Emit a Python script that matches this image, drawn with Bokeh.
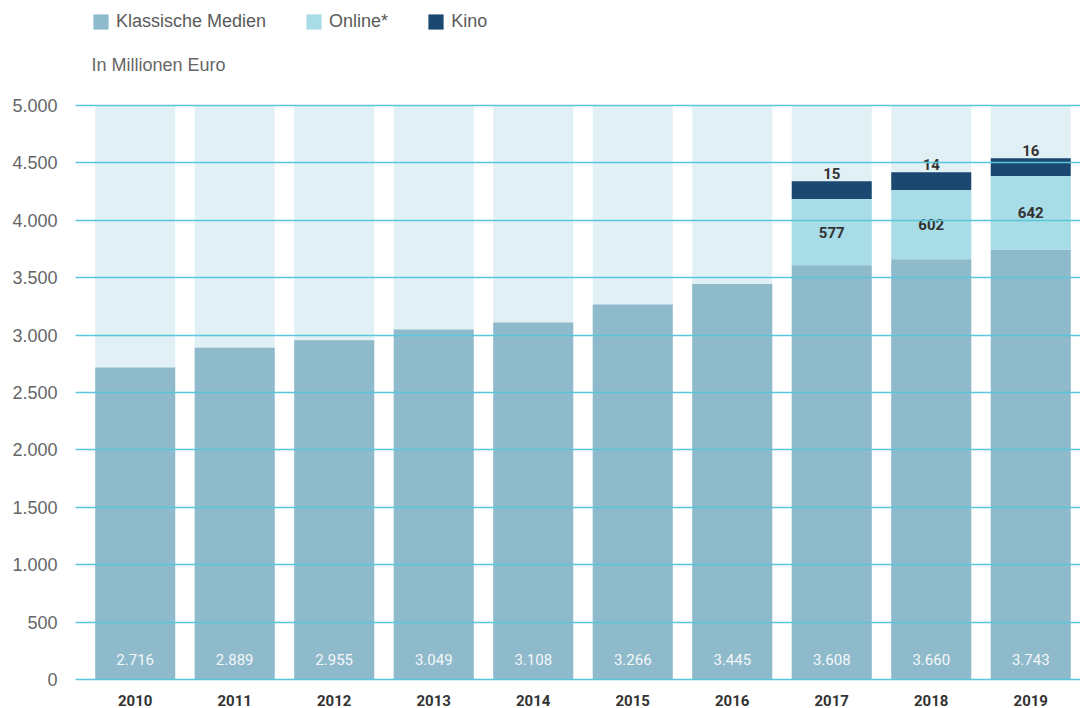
import numpy as np
from bokeh.plotting import figure
from bokeh.models import (ColumnDataSource, FixedTicker, Legend, LegendItem,
                          Label, Range1d)
from bokeh.core.properties import value
from bokeh.embed import file_html
from bokeh.resources import INLINE

# ---------------- data ----------------
years = ["2010", "2011", "2012", "2013", "2014", "2015", "2016", "2017", "2018", "2019"]
klassisch = [2716, 2889, 2955, 3049, 3108, 3266, 3445, 3608, 3660, 3743]
online = [None, None, None, None, None, None, None, 577, 602, 642]
kino = [None, None, None, None, None, None, None, 15, 14, 16]
y_ticks = [0, 500, 1000, 1500, 2000, 2500, 3000, 3500, 4000, 4500, 5000]
y_tick_labels = ["0", "500", "1.000", "1.500", "2.000", "2.500", "3.000",
                 "3.500", "4.000", "4.500", "5.000"]

# ---------------- style ----------------
C_BG = "#e1f0f4"
C_KLASS = "#8fbacb"
C_ONLINE = "#a8dce6"
C_KINO = "#1b4870"
C_GRID = "#58c7dc"
BAR_W = 0.804
KINO_MIN_DRAW = 155   # kino segment is drawn with a minimum visible height in the source
COND = value("Roboto")


def de(v):
    return f"{int(v):,}".replace(",", ".")


x = np.arange(len(years), dtype=float)
k = np.array(klassisch, dtype=float)
o = np.array([np.nan if v is None else v for v in online], dtype=float)
kn = np.array([np.nan if v is None else v for v in kino], dtype=float)
has = ~np.isnan(o)

o_bottom = k
o_top = k + o
kn_bottom = o_top
kn_top = kn_bottom + np.maximum(kn, KINO_MIN_DRAW)

src_all = ColumnDataSource(dict(x=x, k=k, top_bg=np.full(len(x), y_ticks[-1]),
                                klabel=[de(v) for v in k]))
src_new = ColumnDataSource(dict(
    x=x[has], ob=o_bottom[has], ot=o_top[has], omid=(o_bottom[has] + o_top[has]) / 2,
    kb=kn_bottom[has], kt=kn_top[has],
    olabel=[de(v) for v in o[has]], klabel=[de(v) for v in kn[has]]))

p = figure(width=1080, height=708,
           x_range=Range1d(-0.6, len(years) - 0.5),
           y_range=Range1d(-17.4, 5913),
           output_backend="svg", toolbar_location=None,
           min_border_left=75, min_border_right=0, min_border_top=0,
           min_border_bottom=26)
p.outline_line_color = None
p.background_fill_color = "white"

# background bars (scale maximum)
p.vbar(x="x", top="top_bg", bottom=0, width=BAR_W, source=src_all,
       fill_color=C_BG, line_color=None)
r_k = p.vbar(x="x", top="k", bottom=0, width=BAR_W, source=src_all,
             fill_color=C_KLASS, line_color=None)
r_o = p.vbar(x="x", top="ot", bottom="ob", width=BAR_W, source=src_new,
             fill_color=C_ONLINE, line_color=None)
r_kn = p.vbar(x="x", top="kt", bottom="kb", width=BAR_W, source=src_new,
              fill_color=C_KINO, line_color=None)

# value labels
p.text(x="x", y=0, text="klabel", source=src_all, y_offset=-20,
       text_align="center", text_baseline="middle", text_font=COND,
       text_font_size="15px", text_color="#f4f8fa")
p.text(x="x", y="omid", text="olabel", source=src_new,
       text_align="center", text_baseline="middle", text_font=COND,
       text_font_size="15px", text_color="#333333", text_font_style="bold")
p.text(x="x", y="kt", text="klabel", source=src_new, y_offset=-2,
       text_align="center", text_baseline="bottom", text_font=COND,
       text_font_size="15px", text_color="#333333", text_font_style="bold")

# grid on top of bars
p.xgrid.visible = False
p.ygrid.ticker = FixedTicker(ticks=y_ticks)
p.ygrid.grid_line_color = C_GRID
p.ygrid.grid_line_width = 1.5
p.ygrid.level = "overlay"

# axes
p.yaxis.ticker = FixedTicker(ticks=y_ticks)
p.yaxis.major_label_overrides = {t: l for t, l in zip(y_ticks, y_tick_labels)}
p.yaxis.axis_line_color = None
p.yaxis.major_tick_line_color = None
p.yaxis.minor_tick_line_color = None
p.yaxis.major_label_standoff = 12
p.yaxis.major_label_text_font = "Liberation Sans"
p.yaxis.major_label_text_font_size = "18px"
p.yaxis.major_label_text_color = "#666666"

p.xaxis.ticker = FixedTicker(ticks=list(x))
p.xaxis.major_label_overrides = {int(i): y for i, y in zip(x, years)}
p.xaxis.axis_line_color = None
p.xaxis.major_tick_line_color = None
p.xaxis.minor_tick_line_color = None
p.xaxis.major_label_standoff = 7
p.xaxis.major_label_text_font = "Roboto"
p.xaxis.major_label_text_font_size = "15px"
p.xaxis.major_label_text_font_style = "bold"
p.xaxis.major_label_text_color = "#333333"

# legend
legend = Legend(items=[LegendItem(label="Klassische Medien", renderers=[r_k]),
                       LegendItem(label="Online*", renderers=[r_o]),
                       LegendItem(label="Kino", renderers=[r_kn])],
                location=(16, 649), orientation="horizontal",
                glyph_width=19, glyph_height=19, label_height=19,
                label_standoff=6, spacing=38, padding=0, margin=0,
                border_line_color=None, background_fill_alpha=0,
                label_text_font="Liberation Sans", label_text_font_size="18px",
                label_text_color="#5a5a5a")
p.add_layout(legend)

p.add_layout(Label(x=16, y=627, x_units="screen", y_units="screen",
                   text="In Millionen Euro", text_baseline="top",
                   text_font="Liberation Sans", text_font_size="18px",
                   text_color="#666666"))

open("out.html", "w").write(file_html(p, INLINE))
